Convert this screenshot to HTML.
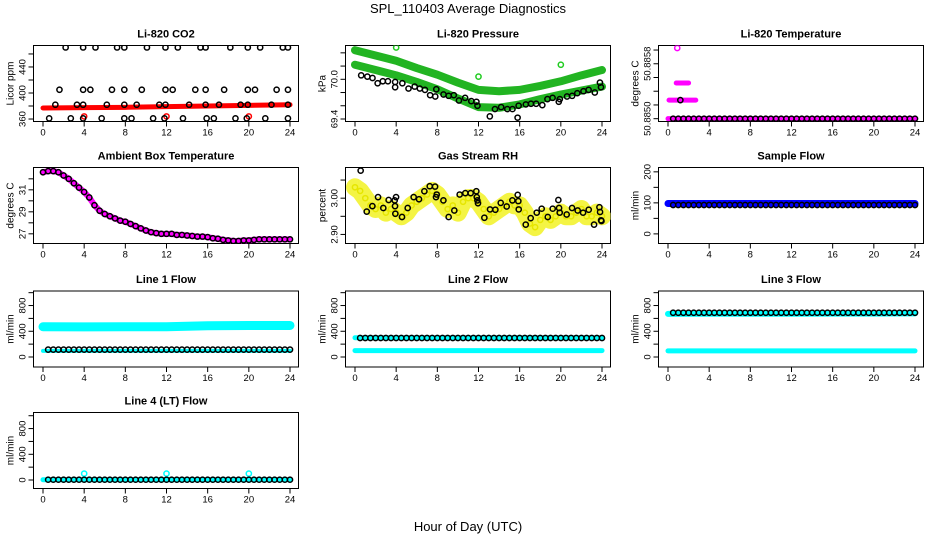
<!DOCTYPE html>
<html><head><meta charset="utf-8"><style>
html,body{margin:0;padding:0;background:#fff}
svg{display:block;font-family:"Liberation Sans",Arial,sans-serif}
</style></head><body>
<svg id="chart" width="936" height="540" viewBox="0 0 936 540">
<text x="468" y="13" text-anchor="middle" font-size="13">SPL_110403  Average Diagnostics</text>
<text x="468" y="531" text-anchor="middle" font-size="13">Hour of Day (UTC)</text>
</svg>
<script>
// ---------- data ----------
const xTicks=[0,4,8,12,16,20,24];
// CO2
const co2BlackHours=[2.2,3.9,5.1,7.2,7.9,10.1,11.9,13.1,15.3,15.8,18.2,19.9,21.1,23.3,23.8,
 1.6,3.9,4.6,6.7,7.9,9.6,11.9,12.6,14.8,15.8,17.6,19.9,20.6,22.7,23.8,
 1.2,3.3,3.9,6.2,7.9,9.1,11.3,11.9,14.2,15.8,17.1,19.2,19.9,22.2,23.8,
 0.6,2.7,3.9,5.7,7.9,8.6,10.7,11.8,13.6,15.9,16.6,18.7,19.8,21.6,23.8];
const co2BlackValues=[470,470,470,470,470,470,470,470,470,470,470,470,470,470,470,
 405,405,405,405,405,405,405,405,405,405,405,405,405,405,405,
 382,382,382,382,382,382,382,382,382,382,382,382,382,382,382,
 361,361,361,361,361,361,361,361,361,361,361,361,361,361,361];
const co2RedHours=[0,4,8,12,16,20,24];
const co2RedValues=[377,377.5,378,379,380,381,382];
const co2RedOutHours=[4,12,20];
const co2RedOutValues=[364,364,364];
// Pressure
const presBandHours=[0,2,4,6,8,10,12,14,16,18,20,22,24];
const presUpper=[70.44,70.36,70.28,70.17,70.07,69.95,69.84,69.82,69.84,69.90,69.97,70.06,70.14];
const presLower=[70.22,70.14,70.06,69.96,69.85,69.71,69.58,69.57,69.62,69.70,69.77,69.83,69.89];
const presBlackHours=[0.6,1.2,1.7,2.2,2.7,3.2,3.9,3.9,4.6,5.2,5.8,6.3,6.8,7.3,7.8,7.9,8.6,9.1,9.6,10.1,10.7,11.3,11.8,11.9,13.1,13.6,14.2,14.8,15.3,15.8,15.9,16.6,17.1,17.6,18.2,18.7,19.2,19.8,19.9,20.6,21.1,21.6,22.2,22.7,23.3,23.8,23.9];
const presBlackValues=[70.06,70.04,70.02,69.94,69.97,69.97,69.96,69.88,69.94,69.86,69.89,69.86,69.84,69.76,69.74,69.85,69.77,69.75,69.76,69.68,69.72,69.67,69.66,69.60,69.44,69.55,69.58,69.55,69.55,69.42,69.60,69.62,69.63,69.63,69.61,69.70,69.72,69.66,69.70,69.74,69.75,69.79,69.82,69.84,69.80,69.95,69.88];
const presGreenOutHours=[4,12,20];
const presGreenOutValues=[70.48,70.04,70.22];
// Li-820 temperature
const tempLowHours=[0,24];
const tempLowValues=[50.8850,50.8850];
const tempRun1Hours=[0.1,0.4,0.7,1.0,1.3,1.6,1.9,2.2,2.5,2.7];
const tempRun1Values=[50.88527,50.88527,50.88527,50.88527,50.88527,50.88527,50.88527,50.88527,50.88527,50.88527];
const tempRun2Hours=[0.8,1.1,1.4,1.7,2.0];
const tempRun2Values=[50.88552,50.88552,50.88552,50.88552,50.88552];
const tempOutHours=[0.9];
const tempOutValues=[50.88603];
const tempBlackValue=50.8850;
const tempBlackExtraHours=[1.2];
const tempBlackExtraValues=[50.88527];
// Ambient
const ambValues=[32.6,32.7,32.7,32.6,32.3,32.0,31.6,31.2,30.8,30.3,29.6,29.1,28.8,28.6,28.4,28.2,28.1,27.9,27.7,27.5,27.3,27.15,27.06,27.0,27.0,27.0,26.9,26.9,26.85,26.8,26.75,26.75,26.7,26.6,26.55,26.45,26.4,26.35,26.35,26.4,26.4,26.45,26.5,26.5,26.5,26.5,26.5,26.5,26.5];
// RH
const rhYellow=[3.03,3.02,3.00,2.98,2.97,2.98,2.96,2.97,2.96,2.95,2.96,2.98,2.99,3.00,3.01,3.02,3.01,2.99,2.97,2.98,2.96,2.99,3.00,3.00,2.99,2.97,2.95,2.96,2.97,2.98,2.99,2.98,2.98,2.96,2.93,2.92,2.94,2.95,2.94,2.95,2.96,2.95,2.95,2.96,2.97,2.95,2.95,2.96,2.95];
const rhBlackHours=[0.55,1.14,1.69,2.24,2.75,3.27,3.86,3.89,3.92,3.99,4.57,5.12,5.70,6.22,6.74,7.26,7.78,7.87,7.94,8.59,9.10,9.65,10.17,10.72,11.24,11.79,11.83,11.89,11.95,12.57,13.12,13.64,14.16,14.74,15.29,15.81,15.87,15.91,16.59,17.07,17.66,18.14,18.73,19.21,19.76,19.83,19.89,20.57,21.09,21.64,22.16,22.71,23.23,23.75,23.81,23.91,23.95];
const rhBlackValues=[3.076,2.963,2.978,3.003,2.973,2.995,2.994,2.978,2.957,3.003,2.948,2.973,3.003,2.997,3.019,3.033,3.032,3.003,3.010,2.994,2.948,2.966,3.010,3.014,3.014,3.019,3.003,2.994,2.986,2.946,2.969,2.968,2.987,2.977,2.994,3.009,2.992,2.969,2.927,2.945,2.960,2.971,2.948,2.971,2.995,2.973,2.960,2.955,2.973,2.966,2.960,2.968,2.927,2.975,2.962,2.939,2.937];
// flows
const flatHours=[0,4,8,12,16,20,24];
const sampleBlue=[98,98,98,98,98,98,98];
const sampleBlack=93;
const line1Cyan=[470,468,470,470,485,490,490];
const line1CyanLow=[95,95,95,95,95,95,95];
const line1Black=115;
const line2CyanHigh=[300,300,300,300,300,300,300];
const line2CyanLow=[100,100,100,100,100,100,100];
const line2Black=295;
const line3CyanHigh=[670,672,672,672,675,675,678];
const line3CyanLow=[95,95,95,95,95,95,95];
const line3Black=688;
const line4Cyan=[5,5,5,5,5,5,5];
const line4Black=5;
const line4OutHours=[4,12,20];
const line4OutValues=[100,100,100];

// ---------- drawing ----------
const NS='http://www.w3.org/2000/svg';
const svg=document.getElementById('chart');
function mk(tag,attrs,parent){const e=document.createElementNS(NS,tag);for(const k in attrs)e.setAttribute(k,attrs[k]);(parent||svg).appendChild(e);return e;}
const colLeft=[33.5,345.5,658.5], rowTop=[45.5,167.5,291,412.5], W=265, H=76;
function panel(col,row,title,ylab,ylo,yhi,yticks,ylabels,name){
  const L=colLeft[col],T=rowTop[row];
  const g=mk('g',{});
  
  
  const sx=h=>L+9.5+h*(247/24);
  const sy=v=>T+H-(v-ylo)/(yhi-ylo)*H;
  const box=mk('rect',{x:L,y:T,width:W,height:H,fill:'none',stroke:'#000','stroke-width':1},g);
  
  
  const t=mk('text',{x:L+W/2,y:T-8,'text-anchor':'middle','font-size':11,'font-weight':'bold'},g);
  t.textContent=title;
  
  
  const xa=mk('g',{},g);
  
  
  mk('line',{x1:sx(0),x2:sx(24),y1:T+H,y2:T+H,stroke:'#000'},xa);
  xTicks.forEach(v=>{
    mk('line',{x1:sx(v),x2:sx(v),y1:T+H,y2:T+H+5,stroke:'#000'},xa);
    const tl=mk('text',{x:sx(v),y:T+H+14,'text-anchor':'middle','font-size':9.5},xa);
    tl.textContent=v;
    
    
  });
  const ya=mk('g',{},g);
  
  
  mk('line',{x1:L,x2:L,y1:sy(yticks[0]),y2:sy(yticks[yticks.length-1]),stroke:'#000'},ya);
  yticks.forEach((v,i)=>{
    mk('line',{x1:L,x2:L-5,y1:sy(v),y2:sy(v),stroke:'#000'},ya);
    if(ylabels[i]){
      const tl=mk('text',{x:0,y:0,'text-anchor':'middle','font-size':9.5,transform:`translate(${L-8},${sy(v)}) rotate(-90)`},ya);
      tl.textContent=ylabels[i];
      
      
    }
  });
  const yl=mk('text',{x:0,y:0,'text-anchor':'middle','font-size':10,transform:`translate(${L-20},${T+H/2}) rotate(-90)`},g);
  yl.textContent=ylab;
  
  
  const cl=mk('clipPath',{id:'c'+name},g);
  mk('rect',{x:L,y:T,width:W,height:H},cl);
  const d=mk('g',{'clip-path':`url(#c${name})`},g);
  
  
  return {sx,sy,g:d};
}
function band(p,hours,vals,color,w,name){
  const pts=hours.map((h,i)=>p.sx(h)+','+p.sy(vals[i])).join(' ');
  const e=mk('polyline',{points:pts,fill:'none',stroke:color,'stroke-width':w,'stroke-linecap':'round','stroke-linejoin':'round'},p.g);
  
  
}
function pts(p,hours,vals,color,name,r,sw){
  hours.forEach((h,i)=>{
    const c=mk('circle',{cx:p.sx(h),cy:p.sy(vals[i]),r:r||2.6,fill:'none',stroke:color,'stroke-width':sw||1.5},p.g);
    
    
  });
}
function blackRow(p,value,name,start){
  const hs=[],vs=[];
  for(let h=(start||0.5);h<=24.01;h+=0.5){hs.push(h);vs.push(value);}
  pts(p,hs,vs,'#000',name);
}
const halfHours=ambValues.map((_,i)=>i*0.5);

let p=panel(0,0,'Li-820 CO2','Licor ppm',356.2,473,[360,380,400,420,440,460],['360','','400','','440',''],'panel-co2');
band(p,co2RedHours,co2RedValues,'#ff0000',5,'co2-red-band');
pts(p,co2RedOutHours,co2RedOutValues,'#ff0000','co2-red-point');
pts(p,co2BlackHours,co2BlackValues,'#000','co2-black-point');

p=panel(1,0,'Li-820 Pressure','kPa',69.362,70.511,[69.4,69.6,69.8,70.0,70.2,70.4],['69.4','','','70.0','',''],'panel-pressure');
band(p,presBandHours,presUpper,'#22b422',8,'pressure-upper-band');
band(p,presBandHours,presLower,'#22b422',8,'pressure-lower-band');
pts(p,presGreenOutHours,presGreenOutValues,'#22cc22','pressure-green-point');
pts(p,presBlackHours,presBlackValues,'#000','pressure-black-point');

p=panel(2,0,'Li-820 Temperature','degrees C',50.884959,50.886066,[50.8850,50.8852,50.8854,50.8856,50.8858,50.8860],['50.8850','','','','50.8858',''],'panel-li820-temp');
band(p,tempLowHours,tempLowValues,'#ff00ff',5,'temp-magenta-band');
band(p,tempRun1Hours,tempRun1Values,'#ff00ff',5,'temp-magenta-run');
band(p,tempRun2Hours,tempRun2Values,'#ff00ff',5,'temp-magenta-run');
pts(p,tempOutHours,tempOutValues,'#ff00ff','temp-magenta-point');
blackRow(p,tempBlackValue,'temp-black-point');
pts(p,tempBlackExtraHours,tempBlackExtraValues,'#000','temp-black-point');

p=panel(0,1,'Ambient Box Temperature','degrees C',26.12,33.03,[27,28,29,30,31,32],['27','','29','','31',''],'panel-ambient');
band(p,halfHours,ambValues,'#ff00ff',6,'ambient-magenta-band');
pts(p,halfHours,ambValues,'#000','ambient-black-point');

p=panel(1,1,'Gas Stream RH','percent',2.875,3.0846,[2.90,2.95,3.00,3.05],['2.90','','3.00',''],'panel-rh');
band(p,halfHours,rhYellow,'#f4f444',18,'rh-yellow-band');
pts(p,halfHours,rhYellow,'#e6e600','rh-yellow-point');
pts(p,rhBlackHours,rhBlackValues,'#000','rh-black-point');

p=panel(2,1,'Sample Flow','ml/min',-31,214,[0,50,100,150,200],['0','','100','','200'],'panel-sample-flow');
band(p,flatHours,sampleBlue,'#0000ff',7,'sample-blue-band');
blackRow(p,sampleBlack,'sample-black-point');

const flowTicks=[0,200,400,600,800,1000], flowLabels=['0','','400','','800',''];
p=panel(0,2,'Line 1 Flow','ml/min',-155.5,1026,flowTicks,flowLabels,'panel-line1');
band(p,flatHours,line1Cyan,'#00ffff',9,'line1-cyan-band');
band(p,flatHours,line1CyanLow,'#00ffff',4,'line1-cyan-low');
blackRow(p,line1Black,'line1-black-point');

p=panel(1,2,'Line 2 Flow','ml/min',-155.5,1026,flowTicks,flowLabels,'panel-line2');
band(p,flatHours,line2CyanHigh,'#00ffff',5,'line2-cyan-high');
band(p,flatHours,line2CyanLow,'#00ffff',5,'line2-cyan-low');
blackRow(p,line2Black,'line2-black-point');

p=panel(2,2,'Line 3 Flow','ml/min',-155.5,1026,flowTicks,flowLabels,'panel-line3');
band(p,flatHours,line3CyanHigh,'#00ffff',6,'line3-cyan-high');
band(p,flatHours,line3CyanLow,'#00ffff',5,'line3-cyan-low');
blackRow(p,line3Black,'line3-black-point');

p=panel(0,3,'Line 4 (LT) Flow','ml/min',-132,1050,flowTicks,flowLabels,'panel-line4');
band(p,flatHours,line4Cyan,'#00ffff',5,'line4-cyan-band');
pts(p,line4OutHours,line4OutValues,'#00ffff','line4-cyan-point');
blackRow(p,line4Black,'line4-black-point');
</script>
</body></html>
